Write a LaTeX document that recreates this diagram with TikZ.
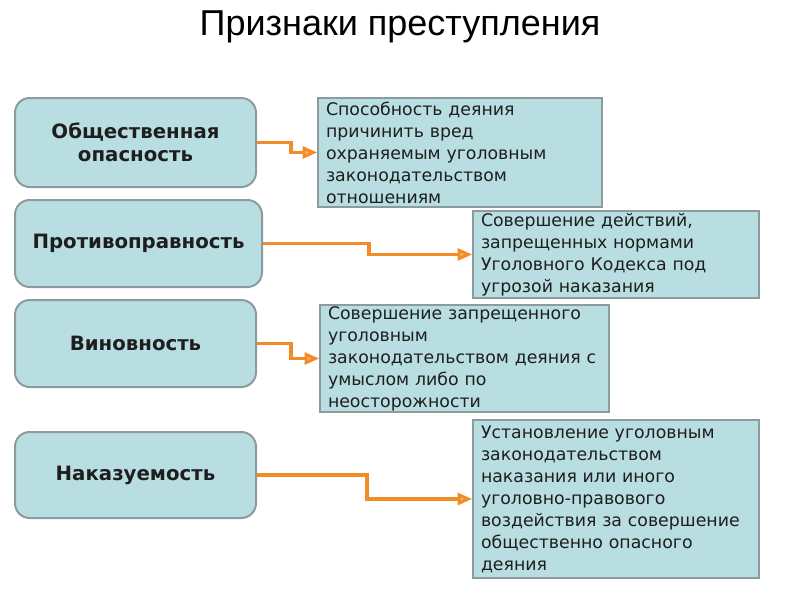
\documentclass[tikz,border=0pt]{standalone}
\usepackage{fontspec}
\setmainfont{DejaVu Sans}
\newfontfamily\titlefont{Liberation Sans}
\usetikzlibrary{arrows.meta}
\definecolor{boxfill}{HTML}{B9DEE2}
\definecolor{boxline}{HTML}{8C9C9E}
\definecolor{conn}{HTML}{F28C28}
\definecolor{arrfill}{HTML}{F7B877}
\definecolor{txt}{HTML}{1E1E1E}
\tikzset{
  leftbox/.style={draw=boxline, line width=1.5pt, fill=boxfill, rounded corners=11pt,
    align=center, font=\fontsize{14.8}{17.5}\selectfont\bfseries, text=txt, inner sep=0pt},
  rightbox/.style={draw=boxline, line width=1.2pt, fill=boxfill, align=left,
    font=\fontsize{13}{16.5}\selectfont, text=txt, inner xsep=6pt, inner ysep=0pt},
  connector/.style={draw=conn, line width=2.3pt,
    -{Triangle[length=11pt,width=9pt,fill=arrfill]}}
}
\begin{document}
\begin{tikzpicture}[x=0.75pt,y=-0.75pt]
\useasboundingbox (0,0) rectangle (800,600);
\node[font=\titlefont\fontsize{27}{30}\selectfont, text=black] (title) at (400,27) {Признаки преступления};

\node[leftbox, minimum width=241*0.75pt, minimum height=89*0.75pt] (l1) at (135.5,142.5) {Общественная\\опасность};
\node[leftbox, minimum width=247*0.75pt, minimum height=87*0.75pt] (l2) at (138.5,243.5) {Противоправность};
\node[leftbox, minimum width=241*0.75pt, minimum height=87*0.75pt] (l3) at (135.5,343.5) {Виновность};
\node[leftbox, minimum width=241*0.75pt, minimum height=86*0.75pt] (l4) at (135.5,475) {Наказуемость};

\node[rightbox, text width=268*0.75pt, minimum height=109*0.75pt] (r1) at (460,152.5)
  {Способность деяния\\причинить вред\\охраняемым уголовным\\законодательством\\отношениям};
\node[rightbox, text width=270*0.75pt, minimum height=87*0.75pt] (r2) at (616,254.5)
  {Совершение действий,\\запрещенных нормами\\Уголовного Кодекса под\\угрозой наказания};
\node[rightbox, text width=273*0.75pt, minimum height=107*0.75pt] (r3) at (464.5,358.5)
  {Совершение запрещенного\\уголовным\\законодательством деяния с\\умыслом либо по\\неосторожности};
\node[rightbox, text width=270*0.75pt, minimum height=158*0.75pt] (r4) at (616,499)
  {Установление уголовным\\законодательством\\наказания или иного\\уголовно-правового\\воздействия за совершение\\общественно опасного\\деяния};

\draw[connector] (l1.east) -- ++(34,0) |- (r1.west);
\draw[connector] (l2.east) -- ++(106,0) |- (r2.west);
\draw[connector] (l3.east) -- ++(34,0) |- (r3.west);
\draw[connector] (l4.east) -- ++(110,0) |- (r4.west);
\end{tikzpicture}
\end{document}
